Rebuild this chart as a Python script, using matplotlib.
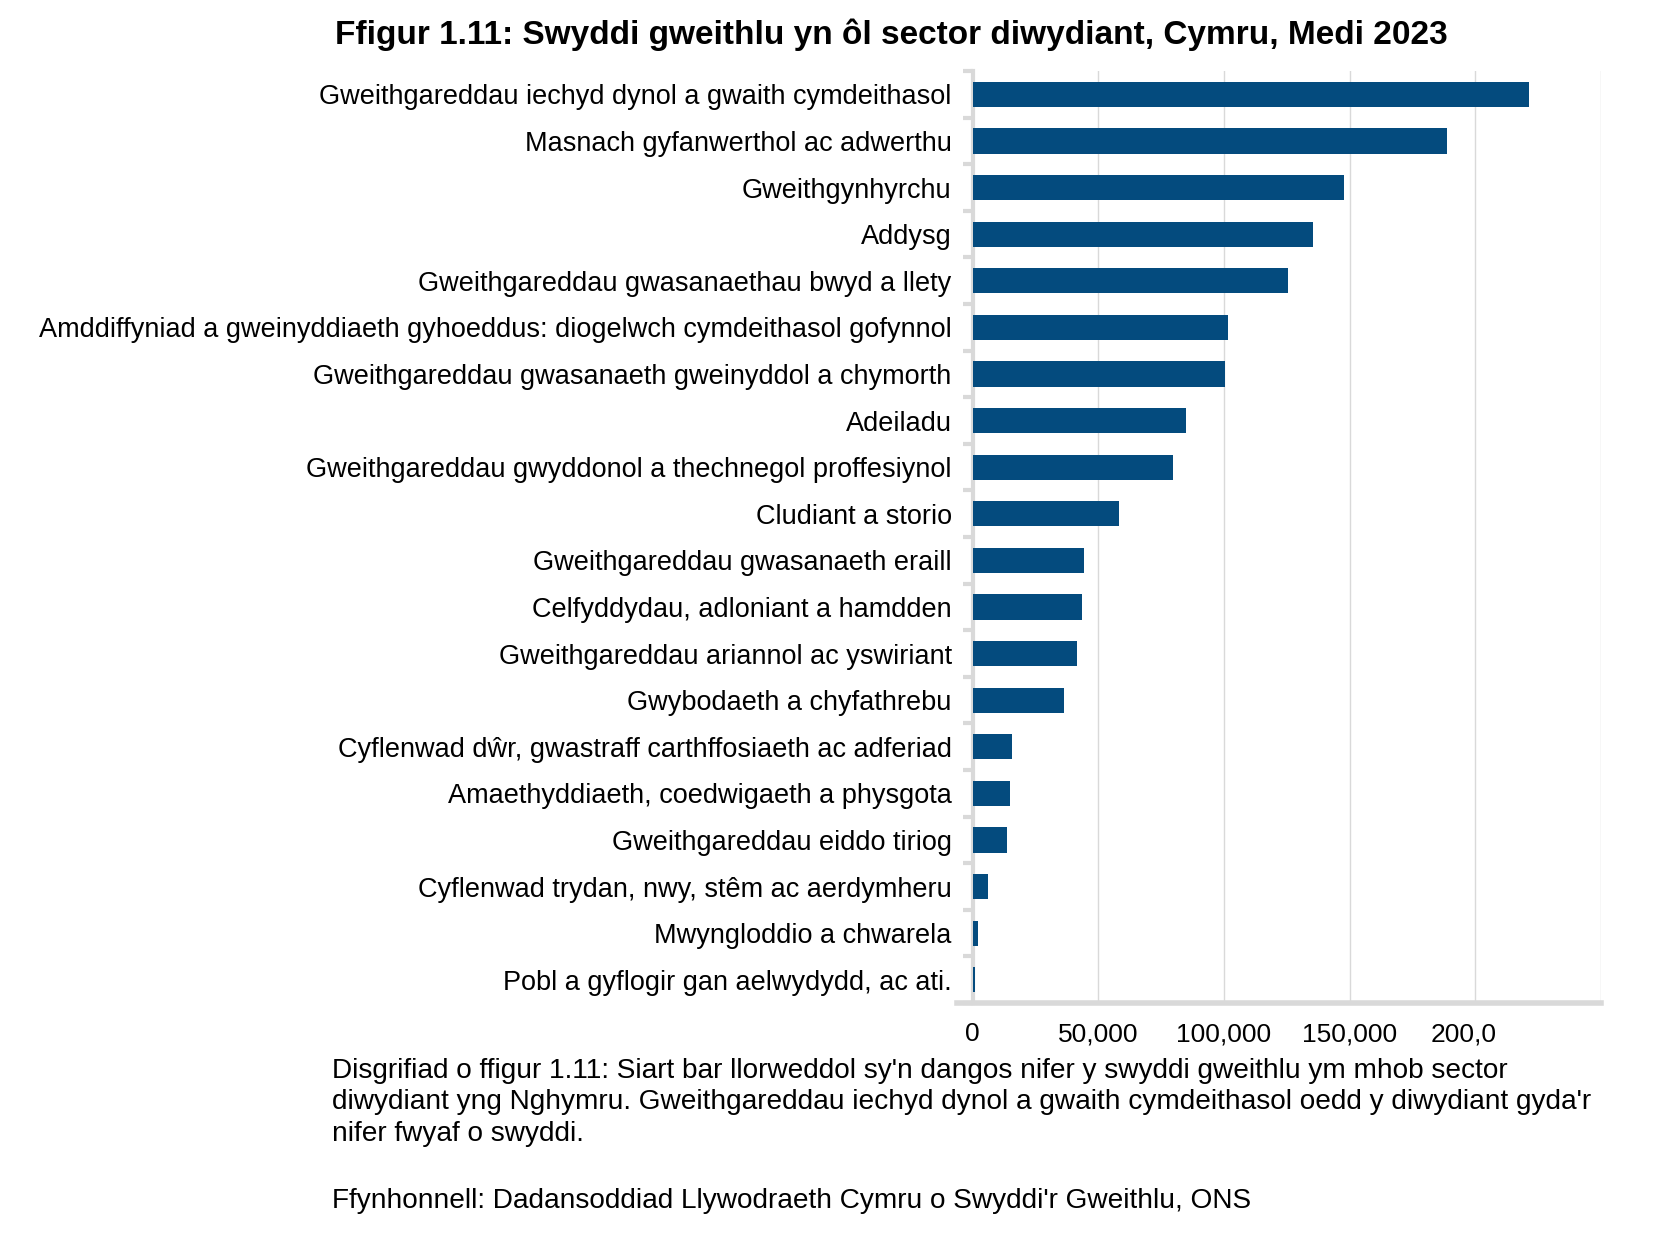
import matplotlib.pyplot as plt
import numpy as np

plt.rcParams['font.family'] = ['Liberation Sans', 'DejaVu Sans']

# sectors, top to bottom as drawn
sectors = [
    "Gweithgareddau iechyd dynol a gwaith cymdeithasol",
    "Masnach gyfanwerthol ac adwerthu",
    "Gweithgynhyrchu",
    "Addysg",
    "Gweithgareddau gwasanaethau bwyd a llety",
    "Amddiffyniad a gweinyddiaeth gyhoeddus: diogelwch cymdeithasol gofynnol",
    "Gweithgareddau gwasanaeth gweinyddol a chymorth",
    "Adeiladu",
    "Gweithgareddau gwyddonol a thechnegol proffesiynol",
    "Cludiant a storio",
    "Gweithgareddau gwasanaeth eraill",
    "Celfyddydau, adloniant a hamdden",
    "Gweithgareddau ariannol ac yswiriant",
    "Gwybodaeth a chyfathrebu",
    "Cyflenwad d\u0175r, gwastraff carthffosiaeth ac adferiad",
    "Amaethyddiaeth, coedwigaeth a physgota",
    "Gweithgareddau eiddo tiriog",
    "Cyflenwad trydan, nwy, st\u00eam ac aerdymheru",
    "Mwyngloddio a chwarela",
    "Pobl a gyflogir gan aelwydydd, ac ati.",
]
jobs = [221200, 188600, 147900, 135300, 125300, 101700, 100600, 85000,
        79800, 58300, 44400, 43600, 41600, 36400, 15800, 14900, 13700,
        6200, 2100, 800]

xticks = [0, 50000, 100000, 150000, 200000, 250000]
xticklabels = ["0", "50,000", "100,000", "150,000", "", ""]

title = "Ffigur 1.11: Swyddi gweithlu yn \u00f4l sector diwydiant, Cymru, Medi 2023"
caption = ("Disgrifiad o ffigur 1.11: Siart bar llorweddol sy'n dangos nifer y swyddi gweithlu ym mhob sector\n"
           "diwydiant yng Nghymru. Gweithgareddau iechyd dynol a gwaith cymdeithasol oedd y diwydiant gyda'r\n"
           "nifer fwyaf o swyddi.")
source = "Ffynhonnell: Dadansoddiad Llywodraeth Cymru o Swyddi'r Gweithlu, ONS"

grey = '#d9d9d9'

fig = plt.figure(figsize=(16.54, 12.46), dpi=100)
ax = fig.add_axes([0.588, 0.195, 0.380, 0.748])

y = np.arange(len(sectors))
ax.barh(y, jobs, height=0.54, color='#044b7e', zorder=3)
ax.set_ylim(len(sectors) - 0.5, -0.5)
ax.set_xlim(0, 250000)

ax.set_yticks(y)
ax.set_yticklabels(sectors, fontsize=19.5)
ax.set_yticks(np.arange(len(sectors) + 1) - 0.5, minor=True)
ax.tick_params(axis='y', which='major', length=0, pad=15)
ax.tick_params(axis='y', which='minor', length=7, width=3, color=grey)

ax.set_xticks(xticks)
ax.set_xticklabels(xticklabels, fontsize=19)
ax.tick_params(axis='x', length=0, pad=14)
# the 200,000 label is cut off in the original
ax.annotate("200,0", xy=(200000, 0), xycoords=('data', 'axes fraction'),
            xytext=(-32, -14), textcoords='offset points',
            ha='left', va='top', fontsize=19)

ax.grid(axis='x', color=grey, linewidth=1, zorder=0)
for s in ['top', 'right']:
    ax.spines[s].set_visible(False)
ax.spines['left'].set_color(grey)
ax.spines['left'].set_linewidth(3)
ax.spines['bottom'].set_color(grey)
ax.spines['bottom'].set_linewidth(4)
ax.spines['bottom'].set_bounds(-6000, 250000)

fig.text(0.539, 0.972, title, ha='center', va='center', fontsize=24, fontweight='bold')
fig.text(0.201, 0.151, caption, ha='left', va='top', fontsize=20.2, linespacing=1.28)
fig.text(0.201, 0.036, source, ha='left', va='center', fontsize=20.2)

fig.savefig('out.png', dpi=100)
